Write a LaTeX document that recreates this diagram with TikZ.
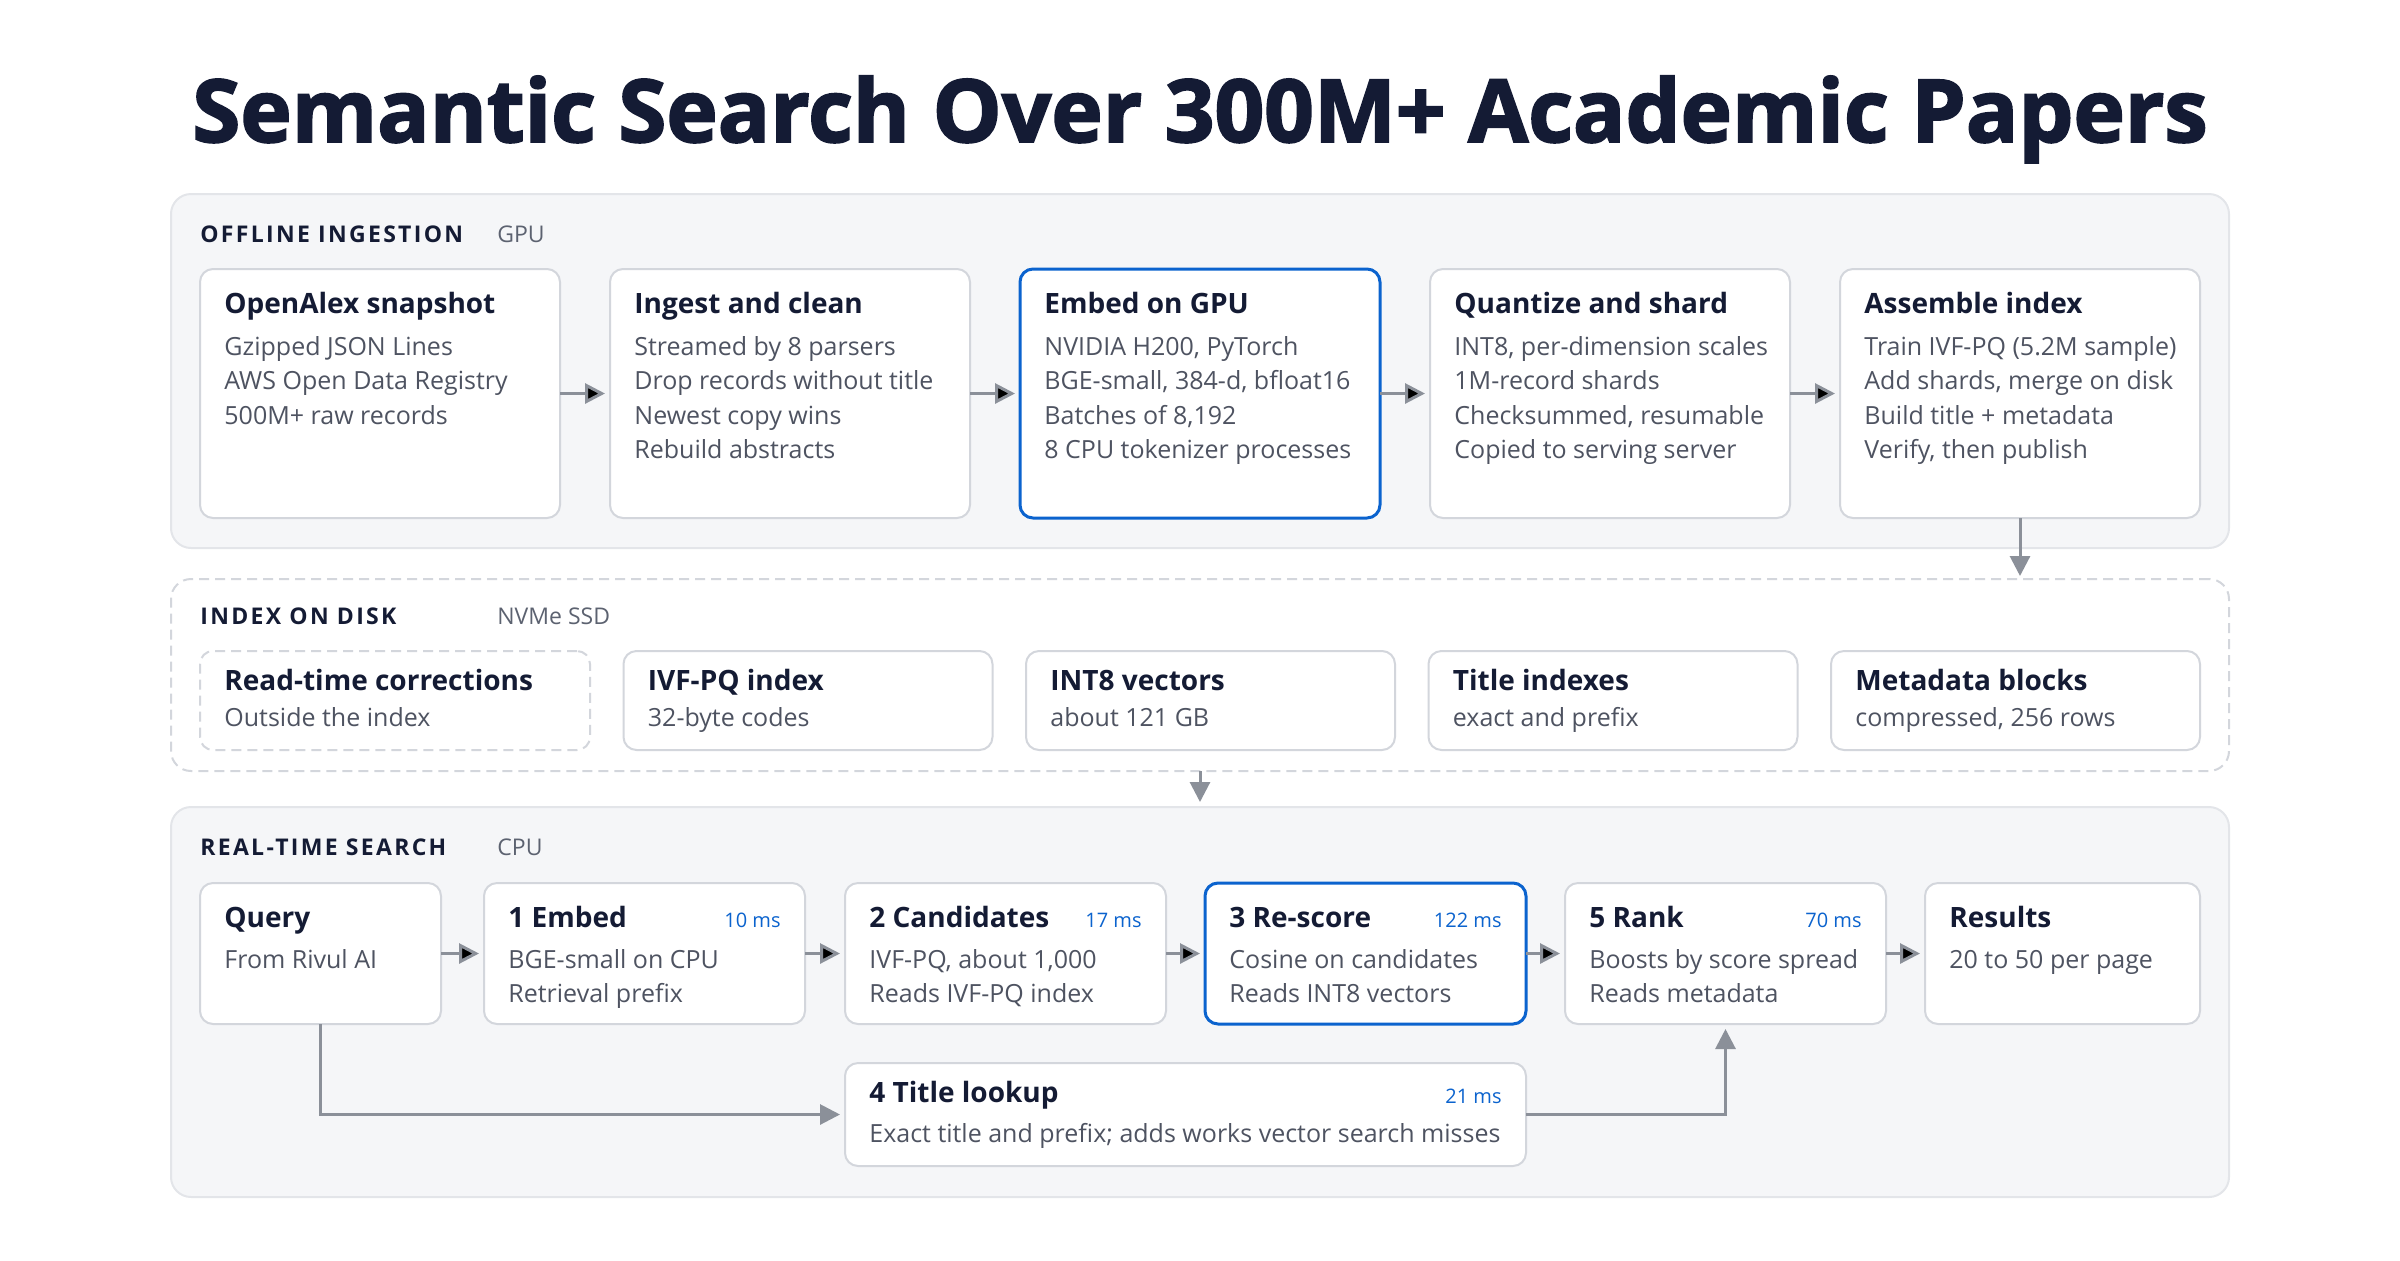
\documentclass[tikz,border=0pt]{standalone}
\usepackage{fontspec}
\setmainfont{Open Sans}
\newfontfamily\capsfont{Open Sans}[LetterSpace=10]
\newfontfamily\bannerfont{Open Sans}[BoldFeatures={FakeBold=2.2}]
\usetikzlibrary{positioning,arrows.meta}
\definecolor{ink}{HTML}{141B34}
\definecolor{bodygray}{HTML}{4E5361}
\definecolor{notegray}{HTML}{5C6270}
\definecolor{accent}{HTML}{0B63CE}
\definecolor{panelfill}{HTML}{F5F6F8}
\definecolor{panelline}{HTML}{E3E5E9}
\definecolor{cardline}{HTML}{D3D6DC}
\definecolor{arrowgray}{HTML}{8B9099}
\newcommand\cardlines[1]{\begin{tabular}[t]{@{}l@{}}#1\end{tabular}}
\begin{document}
\begin{tikzpicture}[x=1pt,y=-1pt,node distance=25pt,
	panel/.style={draw=panelline,fill=panelfill,line width=1pt,rounded corners=10pt,anchor=north west,inner sep=0pt,outer sep=0pt,minimum width=1029pt},
	shelf/.style={panel,draw=cardline,fill=white,dash pattern=on 5pt off 3pt},
	card/.style={draw=cardline,fill=white,line width=1pt,rounded corners=6.5pt,anchor=north west,inner sep=0pt,outer sep=0pt},
	hot/.style={card,draw=accent,line width=1.5pt},
	ghost/.style={card,dash pattern=on 5pt off 3pt},
	tall/.style={minimum width=180pt,minimum height=124.5pt},
	slim/.style={minimum width=184.5pt,minimum height=49.5pt},
	stage/.style={minimum width=160.5pt,minimum height=70.5pt},
	head/.style={anchor=base west,inner sep=0pt,text=ink,font=\bfseries\fontsize{14}{17}\selectfont},
	body/.style={anchor=base west,inner sep=0pt,text=bodygray,font=\fontsize{12.5}{17.25}\selectfont},
	ms/.style={anchor=base east,inner sep=0pt,text=accent,font=\fontsize{10}{12}\selectfont},
	band/.style={anchor=base west,inner sep=0pt,text=ink,font=\capsfont\bfseries\fontsize{11.5}{14}\selectfont},
	bandnote/.style={anchor=base west,inner sep=0pt,text=notegray,font=\fontsize{11.5}{14}\selectfont},
	flow/.style={draw=arrowgray,line width=1.5pt,-{Triangle[length=10pt,width=10pt]},shorten >=2.5pt}]
	\useasboundingbox (0,0) rectangle (1200,630);
	\node[anchor=base,inner sep=0pt,text=ink,font=\bannerfont\bfseries\fontsize{43.5}{50}\selectfont] (banner) at (600,71) {Semantic Search Over 300M+ Academic Papers};

	% three bands
	\node[panel,minimum height=177pt] (offline) at (85.5,97) {};
	\node[shelf,minimum height=96pt] (disk) at (85.5,289.5) {};
	\node[panel,minimum height=195pt] (realtime) at (85.5,403.5) {};
	\node[band] (offline-h) at ([shift={(14.5,24)}]offline.north west) {OFFLINE INGESTION};
	\node[bandnote] (offline-n) at ([shift={(163,24)}]offline.north west) {GPU};
	\node[band] (disk-h) at ([shift={(14.5,22.5)}]disk.north west) {INDEX ON DISK};
	\node[bandnote] (disk-n) at ([shift={(163,22.5)}]disk.north west) {NVMe SSD};
	\node[band] (realtime-h) at ([shift={(14.5,24)}]realtime.north west) {REAL-TIME SEARCH};
	\node[bandnote] (realtime-n) at ([shift={(163,24)}]realtime.north west) {CPU};

	% offline ingestion
	\node[card,tall] (openalex) at (100,134.5) {};
	\node[card,tall,right=of openalex] (ingest) {};
	\node[hot,tall,right=of ingest] (embed) {};
	\node[card,tall,right=of embed] (quantize) {};
	\node[card,tall,right=of quantize] (assemble) {};
	\node[head] (openalex-t) at ([shift={(12,22)}]openalex.north west) {OpenAlex snapshot};
	\node[body] (openalex-b) at ([shift={(12,43)}]openalex.north west) {\cardlines{Gzipped JSON Lines\\AWS Open Data Registry\\500M+ raw records}};
	\node[head] (ingest-t) at ([shift={(12,22)}]ingest.north west) {Ingest and clean};
	\node[body] (ingest-b) at ([shift={(12,43)}]ingest.north west) {\cardlines{Streamed by 8 parsers\\Drop records without title\\Newest copy wins\\Rebuild abstracts}};
	\node[head] (embed-t) at ([shift={(12,22)}]embed.north west) {Embed on GPU};
	\node[body] (embed-b) at ([shift={(12,43)}]embed.north west) {\cardlines{NVIDIA H200, PyTorch\\BGE-small, 384-d, bfloat16\\Batches of 8,192\\8 CPU tokenizer processes}};
	\node[head] (quantize-t) at ([shift={(12,22)}]quantize.north west) {Quantize and shard};
	\node[body] (quantize-b) at ([shift={(12,43)}]quantize.north west) {\cardlines{INT8, per-dimension scales\\1M-record shards\\Checksummed, resumable\\Copied to serving server}};
	\node[head] (assemble-t) at ([shift={(12,22)}]assemble.north west) {Assemble index};
	\node[body] (assemble-b) at ([shift={(12,43)}]assemble.north west) {\cardlines{Train IVF-PQ (5.2M sample)\\Add shards, merge on disk\\Build title + metadata\\Verify, then publish}};

	% index on disk
	\node[ghost,minimum width=195pt,minimum height=49.5pt] (fixes) at (100,325.5) {};
	\node[card,slim,right=16.75pt of fixes] (ivfpq) {};
	\node[card,slim,right=16.75pt of ivfpq] (vectors) {};
	\node[card,slim,right=16.75pt of vectors] (titles) {};
	\node[card,slim,right=16.75pt of titles] (metadata) {};
	\node[head] (fixes-t) at ([shift={(12,19.5)}]fixes.north west) {Read-time corrections};
	\node[body] (fixes-b) at ([shift={(12,37.8)}]fixes.north west) {Outside the index};
	\node[head] (ivfpq-t) at ([shift={(12,19.5)}]ivfpq.north west) {IVF-PQ index};
	\node[body] (ivfpq-b) at ([shift={(12,37.8)}]ivfpq.north west) {32-byte codes};
	\node[head] (vectors-t) at ([shift={(12,19.5)}]vectors.north west) {INT8 vectors};
	\node[body] (vectors-b) at ([shift={(12,37.8)}]vectors.north west) {about 121 GB};
	\node[head] (titles-t) at ([shift={(12,19.5)}]titles.north west) {Title indexes};
	\node[body] (titles-b) at ([shift={(12,37.8)}]titles.north west) {exact and prefix};
	\node[head] (metadata-t) at ([shift={(12,19.5)}]metadata.north west) {Metadata blocks};
	\node[body] (metadata-b) at ([shift={(12,37.8)}]metadata.north west) {compressed, 256 rows};

	% real-time search
	\node[card,minimum width=120.5pt,minimum height=70.5pt] (query) at (100,441.5) {};
	\node[card,stage,right=21.5pt of query] (embedq) {};
	\node[card,stage,right=20pt of embedq] (cands) {};
	\node[hot,stage,right=19.5pt of cands] (rescore) {};
	\node[card,stage,right=19.5pt of rescore] (rank) {};
	\node[card,minimum width=137.5pt,minimum height=70.5pt,right=19.5pt of rank] (results) {};
	\node[card,minimum width=340.5pt,minimum height=51.5pt] (lookup) at ([shift={(0,19.5)}]cands.south west) {};
	\node[head] (query-t) at ([shift={(12,22)}]query.north west) {Query};
	\node[body] (query-b) at ([shift={(12,42.5)}]query.north west) {From Rivul AI};
	\node[head] (embedq-t) at ([shift={(12,22)}]embedq.north west) {1 Embed};
	\node[ms] (embedq-m) at ([shift={(-12,22)}]embedq.north east) {10 ms};
	\node[body] (embedq-b) at ([shift={(12,42.5)}]embedq.north west) {\cardlines{BGE-small on CPU\\Retrieval prefix}};
	\node[head] (cands-t) at ([shift={(12,22)}]cands.north west) {2 Candidates};
	\node[ms] (cands-m) at ([shift={(-12,22)}]cands.north east) {17 ms};
	\node[body] (cands-b) at ([shift={(12,42.5)}]cands.north west) {\cardlines{IVF-PQ, about 1,000\\Reads IVF-PQ index}};
	\node[head] (rescore-t) at ([shift={(12,22)}]rescore.north west) {3 Re-score};
	\node[ms] (rescore-m) at ([shift={(-12,22)}]rescore.north east) {122 ms};
	\node[body] (rescore-b) at ([shift={(12,42.5)}]rescore.north west) {\cardlines{Cosine on candidates\\Reads INT8 vectors}};
	\node[head] (rank-t) at ([shift={(12,22)}]rank.north west) {5 Rank};
	\node[ms] (rank-m) at ([shift={(-12,22)}]rank.north east) {70 ms};
	\node[body] (rank-b) at ([shift={(12,42.5)}]rank.north west) {\cardlines{Boosts by score spread\\Reads metadata}};
	\node[head] (results-t) at ([shift={(12,22)}]results.north west) {Results};
	\node[body] (results-b) at ([shift={(12,42.5)}]results.north west) {20 to 50 per page};
	\node[head] (lookup-t) at ([shift={(12,19.5)}]lookup.north west) {4 Title lookup};
	\node[ms] (lookup-m) at ([shift={(-12,20)}]lookup.north east) {21 ms};
	\node[body] (lookup-b) at ([shift={(12,39.5)}]lookup.north west) {Exact title and prefix; adds works vector search misses};

	\path[flow] (openalex) edge (ingest) (ingest) edge (embed) (embed) edge (quantize) (quantize) edge (assemble);
	\path[flow] (query) edge (embedq) (embedq) edge (cands) (cands) edge (rescore) (rescore) edge (rank) (rank) edge (results);
	\draw[flow,shorten >=1.5pt] (assemble.south) -- (assemble.south |- disk.north);
	\draw[flow] (disk.south) -- (realtime.north);
	\draw[flow] (query.south) |- (lookup.west);
	\draw[flow] (lookup.east) -| (rank.south);
\end{tikzpicture}
\end{document}
